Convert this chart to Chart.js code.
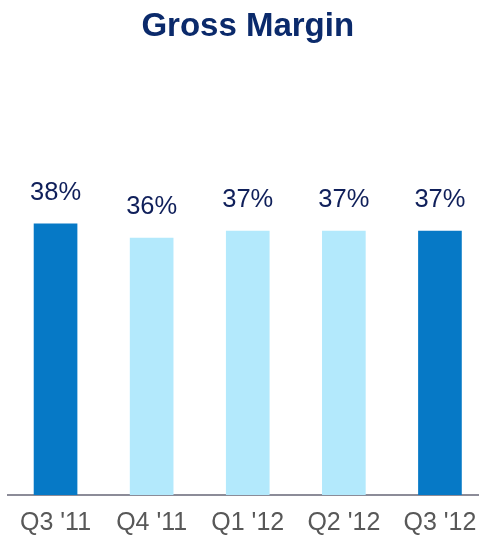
<!DOCTYPE html>
<html>
<head>
<meta charset="utf-8">
<script src="https://cdn.jsdelivr.net/npm/chart.js@4"></script>
<style>
  html, body { margin: 0; padding: 0; background: #ffffff; overflow: hidden; }
  #wrap { width: 479px; height: 539px; position: relative; overflow: hidden; }
  #c { display: block; }
</style>
</head>
<body>
<div id="wrap"><canvas id="c" width="488" height="539"></canvas></div>
<script>
const categories = ["Q3 '11", "Q4 '11", "Q1 '12", "Q2 '12", "Q3 '12"];
const grossMargin = [38, 36, 37, 37, 37];
const barColors = ["#0679C6", "#B3E9FC", "#B3E9FC", "#B3E9FC", "#0679C6"];
const titleText = "Gross Margin";

const valueLabels = {
  id: 'valueLabels',
  afterDatasetsDraw(chart) {
    const ctx = chart.ctx;
    const meta = chart.getDatasetMeta(0);
    ctx.save();
    ctx.font = '25.5px "Liberation Sans", Arial, sans-serif';
    ctx.fillStyle = '#0F1F5A';
    ctx.textAlign = 'center';
    ctx.textBaseline = 'alphabetic';
    meta.data.forEach((bar, i) => {
      ctx.fillText(grossMargin[i] + '%', bar.x, bar.y - 24);
    });
    ctx.restore();
  }
};

new Chart(document.getElementById('c'), {
  type: 'bar',
  data: {
    labels: categories,
    datasets: [{
      data: grossMargin,
      backgroundColor: barColors,
      borderWidth: 0,
      barThickness: 43
    }]
  },
  options: {
    responsive: false,
    animation: false,
    devicePixelRatio: 1,
    layout: { padding: { left: 7.5, right: 0, top: 0, bottom: 0 } },
    plugins: {
      legend: { display: false },
      tooltip: { enabled: false },
      title: {
        display: true,
        text: titleText,
        color: '#0B2A6B',
        font: { family: '"Liberation Sans", Arial, sans-serif', size: 33, weight: 'bold', lineHeight: 1.2 },
        padding: { top: 7.5, bottom: 162.5 }
      }
    },
    scales: {
      x: {
        grid: { display: false, drawTicks: false },
        border: { display: true, color: '#8C8C98', width: 2 },
        ticks: {
          autoSkip: false,
          maxRotation: 0,
          padding: 10,
          color: '#585858',
          font: { family: '"Liberation Sans", Arial, sans-serif', size: 25, lineHeight: 1.44 }
        },
        afterFit: (scale) => { scale.height = 44; }
      },
      y: {
        display: false,
        min: 0,
        max: 40
      }
    }
  },
  plugins: [valueLabels]
});
</script>
</body>
</html>
